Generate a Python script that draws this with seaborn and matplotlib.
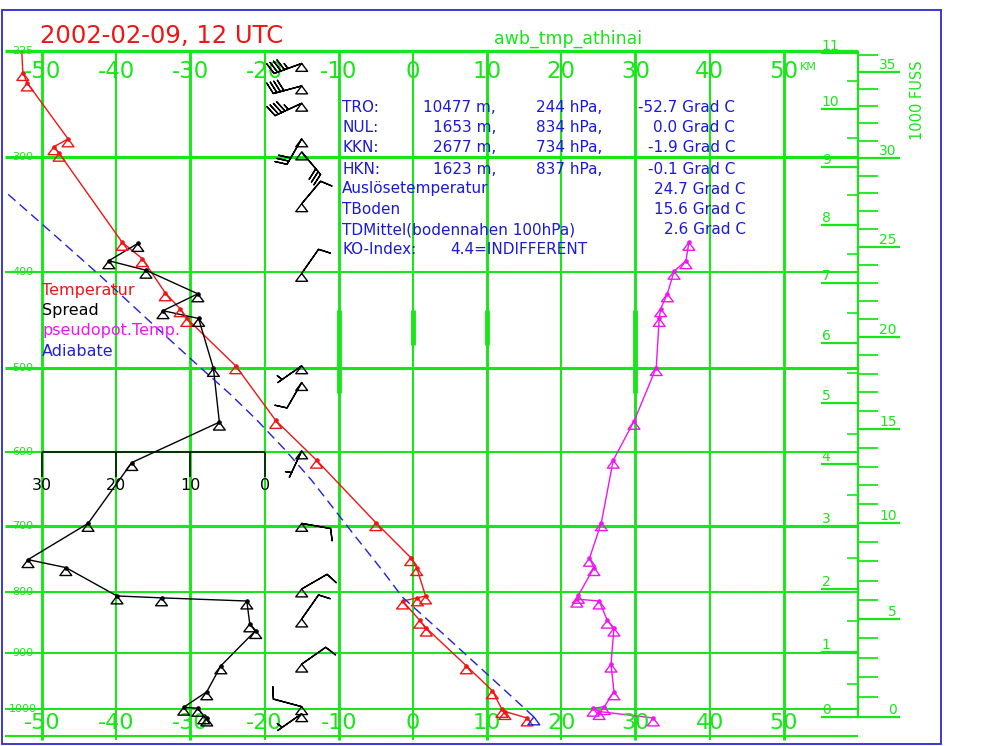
import numpy as np
import matplotlib
matplotlib.use("Agg")
import matplotlib.pyplot as plt
import matplotlib.transforms as mtransforms
from matplotlib.patches import Rectangle
import seaborn as sns

# sounding Athinai, 2002-02-09 12 UTC
# temperature curve (hPa, deg C)
temp_p = [1016, 1004, 1000, 966, 922, 858, 845, 814, 809, 806, 762, 747, 696, 611, 561,
          497, 446, 436, 420, 387, 372, 297, 292, 286, 246, 239, 200]
temp_t = [15.4, 12.4, 12.0, 10.7, 7.2, 1.8, 0.9, -1.4, 0.6, 1.7, 0.5, -0.3, -5.0, -13.0, -18.5,
          -23.9, -30.5, -31.4, -33.4, -36.5, -39.2, -47.7, -48.4, -46.5, -52.0, -52.6, -53.0]

# dew point spread (K), drawn on the -20 .. -50 part of the temperature axis
spread_p = [1016, 1012, 998, 996, 968, 922, 862, 851, 814, 809, 806, 762, 750, 697, 614,
            563, 500, 446, 438, 421, 398, 389, 373]
spread = [7.8, 8.2, 9.0, 10.9, 7.8, 5.9, 1.2, 2.0, 2.4, 13.9, 19.9, 26.8, 31.9, 23.8, 17.9,
          6.1, 6.9, 8.9, 13.7, 9.0, 16.0, 21.0, 17.1]

# pseudopotential temperature (deg C)
thetae_p = [1016, 1004, 998, 995, 968, 919, 858, 845, 814, 811, 805, 762, 748, 696, 611,
            562, 499, 446, 436, 421, 399, 389, 372]
thetae = [32.4, 25.1, 24.3, 25.8, 27.1, 26.7, 27.1, 26.2, 25.1, 22.1, 22.3, 24.4, 23.8, 25.4, 27.0,
          29.8, 32.8, 33.2, 33.4, 34.3, 35.2, 36.8, 37.2]

# adiabate of the lifted surface parcel
adiab_p = [1014, 940, 869, 808, 761, 714, 668, 637, 597, 560, 529, 498, 449, 403, 362, 324]
adiab_t = [16.3, 10.3, 4.2, -1.4, -4.5, -7.9, -11.3, -13.7, -17.3, -21.1, -24.7, -28.8,
           -35.5, -42.2, -48.9, -55.7]

# wind: pressure, direction (deg, from), speed (kt)
wind_p = [233, 248, 260, 286, 296, 338, 401, 497, 516, 599, 697, 795, 843, 919, 995, 1008]
wind_dir = [250, 255, 245, 210, 140, 40, 35, 235, 210, 205, 100, 60, 35, 55, 285, 235]
wind_spd = [45, 40, 45, 30, 30, 10, 10, 5, 10, 5, 10, 10, 10, 10, 10, 5]

temp_grid = [-50, -40, -30, -20, -10, 0, 10, 20, 30, 40, 50]
pres_grid = [300, 400, 500, 600, 700, 800, 900, 1000]
pres_thick = [300, 500, 700]
spread_ticks = [30, 20, 10, 0]
km_ticks = list(range(0, 12))
ft_ticks = list(range(0, 37))

info_rows = [
    ("TRO:", "10477 m,", "244 hPa,", "-52.7 Grad C"),
    ("NUL:", "1653 m,", "834 hPa,", "0.0 Grad C"),
    ("KKN:", "2677 m,", "734 hPa,", "-1.9 Grad C"),
    ("HKN:", "1623 m,", "837 hPa,", "-0.1 Grad C"),
    ("Auslösetemperatur", "", "", "24.7 Grad C"),
    ("TBoden", "", "", "15.6 Grad C"),
    ("TDMittel(bodennahen 100hPa)", "", "", "2.6 Grad C"),
]

GREEN = "#19e619"
RED = "#f01414"
MAGENTA = "#f014f0"
BLUE = "#2020e0"
TXTBLUE = "#1a1ad8"

sns.set_style("white")
plt.rcParams["font.family"] = ["DejaVu Sans"]


def std_p(h):
    # standard atmosphere, hPa for height in m
    return 1013.25 * (1 - 2.25577e-5 * np.asarray(h, dtype=float)) ** 5.25588


def fwd(p):
    return np.power(np.abs(p), 0.286)


def inv(y):
    return np.power(np.abs(y), 1 / 0.286)


fig = plt.figure(figsize=(10, 7.46), dpi=100)
ax = fig.add_axes([0.005, 10 / 746, 0.853, 685 / 746])
ax.set_yscale("function", functions=(fwd, inv))

# grid
for t in temp_grid:
    lw = 2.1 if t in (-50, -30, -10, 10, 30, 50) else 1.5
    ax.vlines(t, 225, 1057, color=GREEN, lw=lw, zorder=1, clip_on=False)
ax.vlines([-10, 30], 437, 528, color=GREEN, lw=3.5, zorder=1)
ax.vlines([0, 10], 437, 474, color=GREEN, lw=3.5, zorder=1)
for p in pres_grid:
    ax.hlines(p, -55, 60, color=GREEN, lw=2.2 if p in pres_thick else 1.5, zorder=1)
ax.hlines(225, -55, 60, color=GREEN, lw=2.4, zorder=1, clip_on=False)
ax.hlines(1050, -55, 60, color=GREEN, lw=1.5, zorder=1, clip_on=False)
ax.vlines(60, 225, std_p(0), color=GREEN, lw=1.6, zorder=1, clip_on=False)

# height scales (km left of the edge, 1000 ft right of it)
km_p = std_p(np.array(km_ticks) * 1000.0)
ax.hlines(km_p, 55, 60, color=GREEN, lw=1.6, zorder=1, clip_on=False)
ax.hlines(std_p(np.array(km_ticks[:-1]) * 1000.0 + 500), 58.5, 60, color=GREEN, lw=1.2,
          zorder=1, clip_on=False)
for k, p in zip(km_ticks, km_p):
    ax.text(55.1, p, str(k), ha="left", va="bottom", color=GREEN, fontsize=10, clip_on=False)
ft_p = std_p(np.array(ft_ticks) * 304.8)
for f, p in zip(ft_ticks, ft_p):
    if f % 5 == 0:
        ax.hlines(p, 60, 65.7, color=GREEN, lw=1.6, clip_on=False)
        ax.text(65.2, p, str(f), ha="right", va="bottom", color=GREEN, fontsize=10, clip_on=False)
    else:
        ax.hlines(p, 60, 62.7, color=GREEN, lw=1.3, clip_on=False)

# spread scale
ax.hlines(600, -50, -20, color="black", lw=1.1, zorder=2)
for s in spread_ticks:
    ax.vlines(-20 - s, 600, 633, color="black", lw=1.1, zorder=2)
    ax.text(-20 - s, 645, str(s), ha="center", va="center", fontsize=11.5, color="black")

TRI = [(0, 0), (-0.75, -1), (0.75, -1), (0, 0)]


def curve(x, y, col, ls="-"):
    sns.lineplot(x=x, y=y, sort=False, estimator=None, color=col, lw=1.0, linestyle=ls,
                 marker="o", markersize=2.5, markeredgecolor=col, ax=ax, zorder=3)


def triangles(x, y, col):
    sns.scatterplot(x=x, y=y, marker=TRI, s=130, color=col, linewidth=1.0, ax=ax, zorder=4,
                    legend=False)
    pts = ax.collections[-1]
    pts.set_facecolor("none")
    pts.set_edgecolor(col)


curve(temp_t, temp_p, RED)
triangles(temp_t, temp_p, RED)
spread_x = [-20 - s for s in spread]
curve(spread_x, spread_p, "black")
triangles(spread_x, spread_p, "black")
curve(thetae, thetae_p, MAGENTA)
triangles(thetae, thetae_p, MAGENTA)
sns.lineplot(x=adiab_t, y=adiab_p, sort=False, estimator=None, color=BLUE, lw=1.0,
             linestyle=(0, (7, 4)), ax=ax, zorder=3)
triangles(adiab_t[:1], adiab_p[:1], BLUE)

# wind barbs
wd = np.radians(wind_dir)
u = -np.array(wind_spd) * np.sin(wd)
v = -np.array(wind_spd) * np.cos(wd)
wx = np.full(len(wind_p), -15.0)
ax.barbs(wx, wind_p, u, v, length=6.5, pivot="tip", color="black", linewidth=1.0, zorder=5)
triangles(wx, wind_p, "black")

ax.set_xlim(-55, 60)
ax.set_ylim(1050, 225)
ax.set_xticks([])
ax.set_yticks([])
ax.minorticks_off()
ax.set_xlabel("")
ax.set_ylabel("")
for sp in ax.spines.values():
    sp.set_visible(False)
ax.patch.set_alpha(0)

# axis numbers
tr = mtransforms.blended_transform_factory(ax.transData, ax.transAxes)
for t in temp_grid:
    ax.text(t, 0.970, str(t), transform=tr, ha="center", va="center", color=GREEN, fontsize=16.5)
    ax.text(t, 0.019, str(t), transform=tr, ha="center", va="center", color=GREEN, fontsize=16)
for p in [225] + pres_grid:
    ax.text(-52.6, p, str(p), ha="center", va="center", color=GREEN, fontsize=8, clip_on=False)

# figure texts, positions in pixels of the 1000x746 canvas
def fx(px):
    return px / 1000


def fy(py):
    return 1 - py / 746


fig.text(fx(800), fy(67), "KM", color=GREEN, fontsize=8, ha="left", va="center")
fig.text(fx(918), fy(100), "1000 FUSS", color=GREEN, fontsize=10.5, rotation=90,
         ha="center", va="center")
fig.text(fx(40), fy(36), "2002-02-09, 12 UTC", color=RED, fontsize=17.5, ha="left", va="center")
fig.text(fx(568), fy(39), "awb_tmp_athinai", color=GREEN, fontsize=12.5, ha="center", va="center")

for lab, col, py in [("Temperatur", RED, 291), ("Spread", "black", 311),
                     ("pseudopot.Temp.", MAGENTA, 331), ("Adiabate", BLUE, 351)]:
    fig.text(fx(42), fy(py), lab, color=col, fontsize=11.5, ha="left", va="center")

row_y = [108, 128, 148, 169, 189, 209, 230]
for (lab, hm, hp, grad), py in zip(info_rows, row_y):
    fig.text(fx(342), fy(py), lab, color=TXTBLUE, fontsize=11, ha="left", va="center")
    if hm:
        fig.text(fx(496), fy(py), hm, color=TXTBLUE, fontsize=11, ha="right", va="center")
        fig.text(fx(602), fy(py), hp, color=TXTBLUE, fontsize=11, ha="right", va="center")
        fig.text(fx(735), fy(py), grad, color=TXTBLUE, fontsize=11, ha="right", va="center")
    else:
        fig.text(fx(746), fy(py), grad, color=TXTBLUE, fontsize=11, ha="right", va="center")
fig.text(fx(342), fy(249), "KO-Index:", color=TXTBLUE, fontsize=11, ha="left", va="center")
fig.text(fx(450), fy(249), "4.4=INDIFFERENT", color=TXTBLUE, fontsize=11, ha="left", va="center")

# frame
fig.patches.append(Rectangle((0.002, 0.0027), 0.939, 0.984, transform=fig.transFigure,
                             fill=False, edgecolor="#2a2ad0", lw=1.3))

fig.savefig("out.png", dpi=100, facecolor="white")
